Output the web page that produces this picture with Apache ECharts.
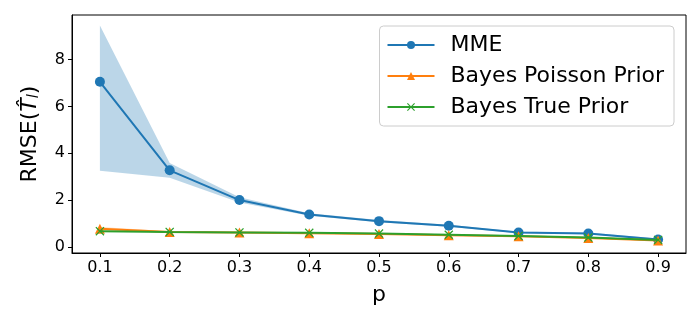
<!DOCTYPE html>
<html><head><meta charset="utf-8">
<script src="https://cdn.jsdelivr.net/npm/echarts@6/dist/echarts.min.js"></script>
<style>html,body{margin:0;padding:0;background:#fff}#c{width:700px;height:320px}</style>
</head><body><div id="c"></div>
<script>
const pValues = [0.1,0.2,0.3,0.4,0.5,0.6,0.7,0.8,0.9];
const mme = [7.05,3.27,2.0,1.38,1.1,0.9,0.61,0.57,0.32];
const mmeLower = [3.25,2.95,1.9,1.33,1.05,0.86,0.58,0.54,0.28];
const mmeUpper = [9.45,3.58,2.12,1.44,1.15,0.95,0.65,0.61,0.36];
const bayesPoisson = [0.77,0.64,0.62,0.58,0.55,0.5,0.45,0.38,0.27];
const bayesPoissonLower = [0.70,0.61,0.60,0.56,0.53,0.48,0.43,0.36,0.25];
const bayesPoissonUpper = [0.85,0.67,0.64,0.60,0.57,0.52,0.47,0.40,0.29];
const bayesTrue = [0.67,0.64,0.62,0.60,0.57,0.52,0.47,0.40,0.30];
const xTicks = [0.1,0.2,0.3,0.4,0.5,0.6,0.7,0.8,0.9];
const yTicks = [0,2,4,6,8];

const F = 'DejaVu Sans';
const pairs = a => pValues.map((p,i)=>[p,a[i]]);
const xShape = 'path://M0,1 L1,0 L5,4 L9,0 L10,1 L6,5 L10,9 L9,10 L5,6 L1,10 L0,9 L4,5 Z';

function bandSeries(lower, upper, color){
  return {
    type:'custom', silent:true, z:1,
    data:[0],
    renderItem:(params, api)=>{
      const pts = [];
      for (let i=0;i<pValues.length;i++) pts.push(api.coord([pValues[i], upper[i]]));
      for (let i=pValues.length-1;i>=0;i--) pts.push(api.coord([pValues[i], lower[i]]));
      return {type:'polygon', shape:{points:pts}, style:{fill:color, stroke:'none'}};
    }
  };
}

const chart = echarts.init(document.getElementById('c'), null, {renderer:'canvas'});
chart.setOption({
  animation:false,
  textStyle:{fontFamily:F},
  grid:{left:72,right:14,top:15,bottom:67,show:true,borderColor:'#000',borderWidth:1,backgroundColor:'transparent'},
  legend:{
    data:['MME','Bayes Poisson Prior','Bayes True Prior'],
    orient:'vertical', right:26, top:26,
    itemWidth:47, itemHeight:10, itemGap:9,
    padding:[8,10,8,7],
    borderColor:'#ccc', borderWidth:1, borderRadius:4,
    backgroundColor:'rgba(255,255,255,0.8)',
    textStyle:{fontSize:22,fontFamily:F,color:'#000',padding:[0,0,0,11]}
  },
  xAxis:{
    type:'value', min:0.06, max:0.94,
    name:'p', nameLocation:'middle', nameGap:31,
    nameTextStyle:{fontSize:22,fontFamily:F,color:'#000'},
    axisLine:{show:true,onZero:false,lineStyle:{color:'#000',width:1}},
    axisTick:{show:true,length:4,lineStyle:{color:'#000'},customValues:xTicks},
    axisLabel:{color:'#000',fontSize:16,fontFamily:F,margin:7,customValues:xTicks,formatter:v=>v.toFixed(1)},
    splitLine:{show:false}
  },
  yAxis:{
    type:'value', min:-0.26, max:9.9,
    name:'{a|RMSE(}{i|T̂}{s|l}{a|)}', nameLocation:'middle', nameGap:30, nameRotate:90,
    nameTextStyle:{fontSize:22,fontFamily:F,color:'#000',
      rich:{a:{fontSize:22,fontFamily:F,color:'#000'},
            i:{fontSize:22,fontFamily:F,fontStyle:'italic',color:'#000'},
            s:{fontSize:15,fontFamily:F,fontStyle:'italic',color:'#000',verticalAlign:'bottom',padding:[9,0,0,0]}}},
    axisLine:{show:true,onZero:false,lineStyle:{color:'#000',width:1}},
    axisTick:{show:true,length:4,lineStyle:{color:'#000'},customValues:yTicks},
    axisLabel:{color:'#000',fontSize:16,fontFamily:F,margin:7,customValues:yTicks},
    splitLine:{show:false}
  },
  series:[
    bandSeries(mmeLower, mmeUpper, 'rgba(31,119,180,0.3)'),
    bandSeries(bayesPoissonLower, bayesPoissonUpper, 'rgba(255,127,14,0.3)'),
    {name:'MME',type:'line',data:pairs(mme),symbol:'circle',symbolSize:10,color:'#1f77b4',lineStyle:{width:2,color:'#1f77b4'},itemStyle:{color:'#1f77b4'},z:3},
    {name:'Bayes Poisson Prior',type:'line',data:pairs(bayesPoisson),symbol:'triangle',symbolSize:10,color:'#ff7f0e',lineStyle:{width:2,color:'#ff7f0e'},itemStyle:{color:'#ff7f0e'},z:4},
    {name:'Bayes True Prior',type:'line',data:pairs(bayesTrue),symbol:xShape,symbolSize:9,color:'#2ca02c',lineStyle:{width:2,color:'#2ca02c'},itemStyle:{color:'#2ca02c'},z:5}
  ]
});
</script></body></html>
